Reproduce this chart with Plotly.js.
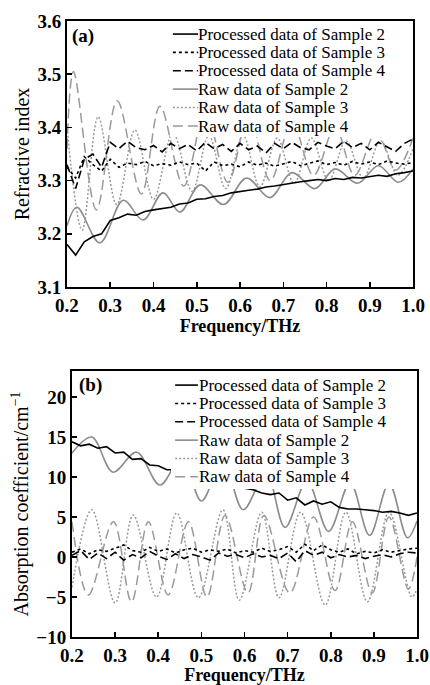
<!DOCTYPE html>
<html><head><meta charset="utf-8">
<script src="https://cdn.plot.ly/plotly-3.0.1.min.js"></script>
<style>html,body{margin:0;padding:0;background:#fff}#chart{width:430px;height:685px}</style>
</head><body><div id="chart"></div>
<script>
// ---------- data ----------
const freqStep = [0.20,0.22,0.24,0.26,0.28,0.30,0.32,0.34,0.36,0.38,0.40,0.42,0.44,0.46,0.48,0.50,0.52,0.54,0.56,0.58,0.60,0.62,0.64,0.66,0.68,0.70,0.72,0.74,0.76,0.78,0.80,0.82,0.84,0.86,0.88,0.90,0.92,0.94,0.96,0.98,1.00];

// (a) refractive index, processed
const nProc2 = [3.180,3.160,3.185,3.195,3.200,3.225,3.230,3.237,3.235,3.242,3.245,3.247,3.250,3.256,3.258,3.265,3.266,3.270,3.272,3.277,3.280,3.282,3.284,3.288,3.290,3.293,3.295,3.298,3.300,3.302,3.300,3.304,3.302,3.306,3.305,3.308,3.310,3.308,3.313,3.315,3.318];
const nProc3 = [3.325,3.305,3.345,3.330,3.318,3.340,3.325,3.333,3.330,3.336,3.328,3.332,3.329,3.335,3.330,3.333,3.318,3.335,3.328,3.331,3.326,3.335,3.329,3.333,3.327,3.331,3.336,3.328,3.333,3.337,3.330,3.334,3.329,3.336,3.331,3.335,3.330,3.337,3.333,3.331,3.334];
const nProc4 = [3.330,3.285,3.340,3.350,3.325,3.372,3.360,3.374,3.362,3.358,3.366,3.354,3.370,3.360,3.368,3.356,3.372,3.360,3.368,3.355,3.370,3.358,3.365,3.352,3.370,3.360,3.372,3.362,3.358,3.372,3.365,3.360,3.374,3.362,3.370,3.358,3.372,3.364,3.355,3.370,3.378];

// (a) refractive index, raw (extrema)
const nRaw2F = [0.200,0.223,0.276,0.330,0.376,0.422,0.461,0.508,0.562,0.615,0.669,0.720,0.773,0.820,0.872,0.920,0.966,1.000];
const nRaw2  = [3.215,3.250,3.183,3.263,3.226,3.277,3.241,3.292,3.255,3.305,3.268,3.315,3.285,3.322,3.295,3.328,3.297,3.322];
const nRaw3F = [0.200,0.235,0.272,0.315,0.357,0.400,0.445,0.489,0.528,0.567,0.607,0.646,0.686,0.725,0.765,0.805,0.845,0.885,0.925,0.965,1.000];
const nRaw3  = [3.400,3.207,3.420,3.255,3.395,3.265,3.390,3.280,3.385,3.285,3.385,3.288,3.380,3.295,3.380,3.300,3.375,3.305,3.375,3.310,3.360];
const nRaw4F = [0.200,0.215,0.268,0.316,0.372,0.415,0.470,0.520,0.572,0.620,0.670,0.720,0.770,0.820,0.865,0.915,0.960,1.000];
const nRaw4  = [3.360,3.505,3.245,3.450,3.275,3.440,3.290,3.430,3.297,3.420,3.300,3.410,3.310,3.400,3.310,3.390,3.320,3.380];

// (b) absorption coefficient, processed
const aProc2 = [14.4,13.9,14.1,13.6,13.8,13.0,13.1,12.2,12.3,11.5,11.4,10.9,10.9,10.6,10.3,10.1,9.8,9.6,9.3,9.0,8.6,8.4,8.0,7.8,8.0,7.1,7.4,6.5,7.0,6.6,6.9,6.2,6.0,6.0,5.9,5.8,5.6,5.7,5.5,5.2,5.5];
const aProc3 = [0.6,1.0,0.4,0.9,0.7,1.1,1.5,0.8,0.6,1.2,0.7,1.0,0.5,0.9,1.1,0.6,0.9,0.7,1.0,0.5,0.8,0.6,1.1,0.7,0.9,1.3,0.6,1.6,0.8,1.5,0.9,0.6,1.0,0.4,0.7,0.5,0.9,0.6,0.8,1.0,1.1];
const aProc4 = [0.2,0.8,-0.3,0.5,-0.2,0.6,-0.4,0.3,-0.1,0.7,0.1,-0.3,0.4,-0.2,0.3,0.0,-0.4,0.5,0.1,0.3,-0.1,0.4,0.0,0.2,-0.2,0.5,-0.6,0.8,0.2,0.6,-0.1,0.3,0.0,0.2,-0.2,0.1,0.3,0.0,0.4,0.6,0.5];

// (b) absorption coefficient, raw (extrema)
const aRaw2F = [0.200,0.246,0.295,0.350,0.404,0.455,0.500,0.550,0.597,0.650,0.694,0.745,0.795,0.845,0.890,0.935,0.978,1.000];
const aRaw2  = [13.0,15.0,10.6,13.1,9.0,12.5,7.0,12.0,5.9,10.5,3.7,9.5,3.2,9.3,2.7,9.2,2.4,4.5];
const aRaw3F = [0.200,0.246,0.300,0.342,0.396,0.443,0.493,0.550,0.588,0.640,0.680,0.730,0.787,0.835,0.885,0.935,0.988,1.000];
const aRaw3  = [-3.8,5.9,-5.75,5.25,-5.0,5.5,-5.1,5.9,-5.4,5.6,-5.1,5.6,-6.0,5.6,-5.6,5.6,-5.0,-4.0];
const aRaw4F = [0.200,0.238,0.296,0.338,0.377,0.423,0.470,0.513,0.555,0.608,0.645,0.705,0.760,0.810,0.850,0.896,0.935,0.980,1.000];
const aRaw4  = [4.4,-4.75,4.4,-5.6,4.4,-4.75,4.4,-5.0,5.2,-4.5,5.2,-4.5,5.0,-4.2,4.4,-4.5,5.0,-4.0,0.0];

const seriesNames = ['Processed data of Sample 2','Processed data of Sample 3','Processed data of Sample 4','Raw data of Sample 2','Raw data of Sample 3','Raw data of Sample 4'];
const xTicks = [0.2,0.3,0.4,0.5,0.6,0.7,0.8,0.9,1.0];
const nTicks = [3.1,3.2,3.3,3.4,3.5,3.6];
const aTicks = [-10,-5,0,5,10,15,20];

// ---------- styles ----------
const FONT = 'Liberation Serif, Times New Roman, serif';
const styles = [
  {color:'#000000', dash:'solid', width:1.6},
  {color:'#000000', dash:'dot', width:1.6},
  {color:'#000000', dash:'8px,4px', width:1.6},
  {color:'#8c8c8c', dash:'solid', width:1.6},
  {color:'#9a9a9a', dash:'2px,2px', width:1.5},
  {color:'#9a9a9a', dash:'10px,5px', width:1.5}
];

function tr(x, y, xa, ya, idx, spline) {
  const s = styles[idx];
  return {x:x, y:y, xaxis:xa, yaxis:ya, type:'scatter', mode:'lines', name:seriesNames[idx],
    showlegend:false, hoverinfo:'skip',
    line:{color:s.color, dash:s.dash, width:s.width, shape: spline ? 'spline' : 'linear', smoothing:1}};
}

const data = [
  tr(nRaw2F, nRaw2, 'x', 'y', 3, true),
  tr(nRaw3F, nRaw3, 'x', 'y', 4, true),
  tr(nRaw4F, nRaw4, 'x', 'y', 5, true),
  tr(freqStep, nProc2, 'x', 'y', 0, false),
  tr(freqStep, nProc3, 'x', 'y', 1, false),
  tr(freqStep, nProc4, 'x', 'y', 2, false),
  tr(aRaw2F, aRaw2, 'x2', 'y2', 3, true),
  tr(aRaw3F, aRaw3, 'x2', 'y2', 4, true),
  tr(aRaw4F, aRaw4, 'x2', 'y2', 5, true),
  tr(freqStep, aProc2, 'x2', 'y2', 0, false),
  tr(freqStep, aProc3, 'x2', 'y2', 1, false),
  tr(freqStep, aProc4, 'x2', 'y2', 2, false)
];

function xAxis(domain, anchor) {
  return {domain:domain, anchor:anchor, range:[0.2,1.0], tickvals:xTicks, tickformat:'.1f',
    ticks:'inside', ticklen:5, tickwidth:1.5, tickcolor:'#000',
    showline:true, linewidth:2, linecolor:'#000', mirror:true, showgrid:false, zeroline:false,
    tickfont:{family:FONT, size:19, color:'#000', weight:'bold'},
    title:{text:'Frequency/THz', font:{family:FONT, size:18, color:'#000', weight:'bold'}, standoff:0}};
}
function yAxis(domain, anchor, range, ticks, fmt, title) {
  return {domain:domain, anchor:anchor, range:range, tickvals:ticks, tickformat:fmt,
    ticks:'inside', ticklen:5, tickwidth:1.5, tickcolor:'#000',
    showline:true, linewidth:2, linecolor:'#000', mirror:true, showgrid:false, zeroline:false,
    tickfont:{family:FONT, size:19, color:'#000', weight:'bold'},
    title:{text:title, font:{family:FONT, size:20, color:'#000'}, standoff:2}};
}

// legend drawn as a boxed key
const shapes = [], annotations = [];
function legendBox(xr, yr, x0, y0, sx0, sx1, tx, rows) {
  shapes.push({type:'rect', xref:xr+' domain', yref:yr+' domain', x0:x0, x1:0.995, y0:y0, y1:0.995,
    fillcolor:'#ffffff', line:{width:0}, layer:'above'});
  rows.forEach((ry, i) => {
    const s = styles[i];
    shapes.push({type:'line', xref:xr+' domain', yref:yr+' domain', x0:sx0, x1:sx1, y0:ry, y1:ry,
      line:{color:s.color, dash:s.dash, width:s.width}, layer:'above'});
    annotations.push({xref:xr+' domain', yref:yr+' domain', x:tx, y:ry, xanchor:'left', yanchor:'middle',
      text:seriesNames[i], showarrow:false, font:{family:FONT, size:17, color:'#000'}, borderpad:0});
  });
}
legendBox('x', 'y', 0.298, 0.564, 0.306, 0.379, 0.376, [0.951,0.882,0.813,0.744,0.675,0.605]);
legendBox('x2', 'y2', 0.287, 0.556, 0.299, 0.365, 0.364, [0.947,0.878,0.809,0.740,0.671,0.602]);
annotations.push({xref:'x domain', yref:'y domain', x:0.008, y:0.944, xanchor:'left', yanchor:'middle',
  text:'(a)', showarrow:false, font:{family:FONT, size:19, color:'#000', weight:'bold'}});
annotations.push({xref:'x2 domain', yref:'y2 domain', x:0.014, y:0.947, xanchor:'left', yanchor:'middle',
  text:'(b)', showarrow:false, font:{family:FONT, size:19, color:'#000', weight:'bold'}});

const layout = {
  width:430, height:685, margin:{l:0, r:0, t:0, b:0},
  paper_bgcolor:'#fff', plot_bgcolor:'#fff', showlegend:false,
  font:{family:FONT, color:'#000'},
  xaxis: xAxis([0.1558,0.9605], 'y'),
  yaxis: yAxis([0.5810,0.9693], 'x', [3.1,3.6], nTicks, '.1f', 'Refractive index'),
  xaxis2: xAxis([0.1674,0.9698], 'y2'),
  yaxis2: yAxis([0.0701,0.4584], 'x2', [-10,23.25], aTicks, 'd', 'Absorption coefficient/cm<sup>−1</sup>'),
  shapes: shapes, annotations: annotations
};

Plotly.newPlot('chart', data, layout, {staticPlot:true, displayModeBar:false});
</script>
</body></html>
